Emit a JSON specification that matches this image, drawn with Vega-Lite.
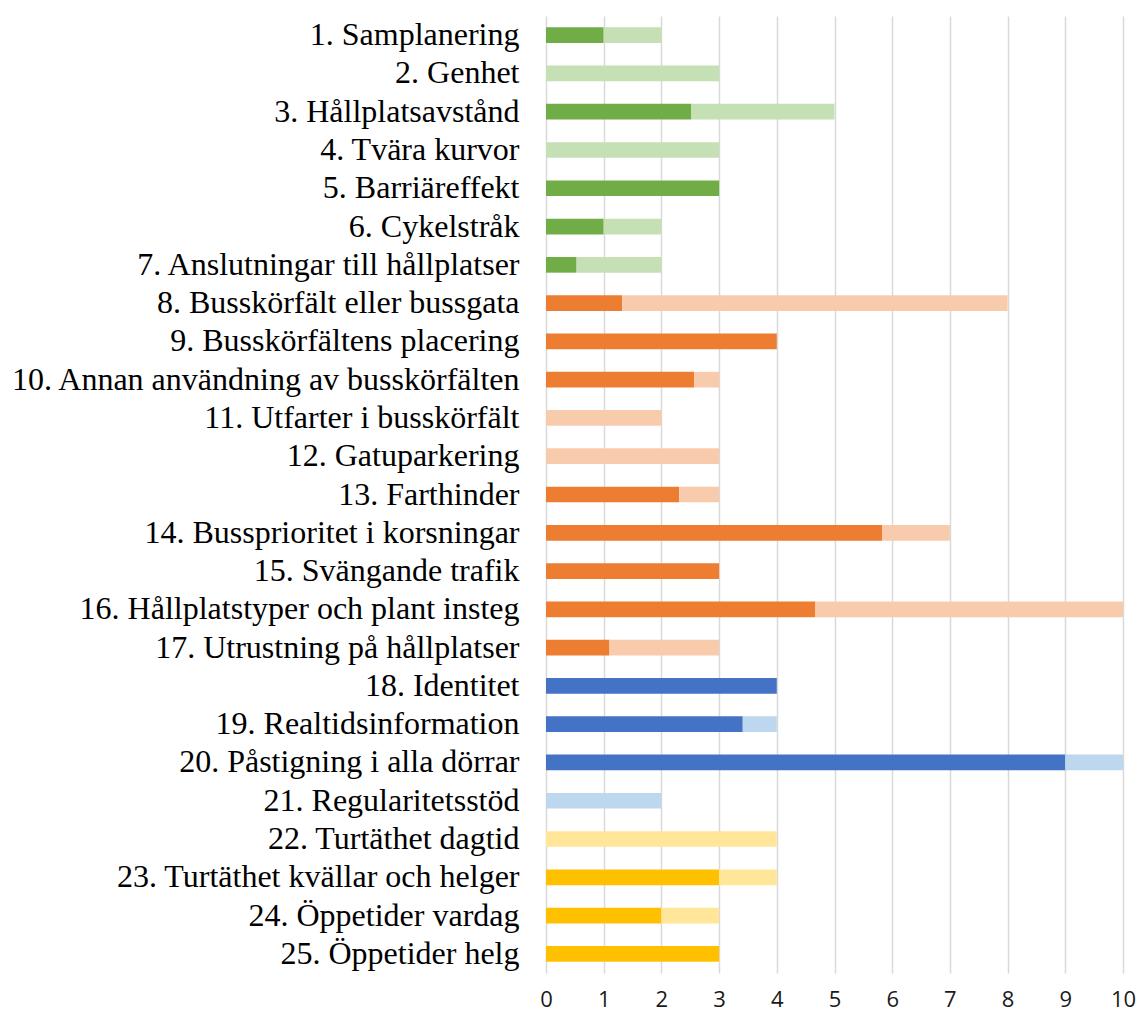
{
  "$schema": "https://vega.github.io/schema/vega-lite/v6.json",
  "width": 577,
  "height": 957,
  "autosize": "none",
  "padding": {"left": 546, "top": 16, "right": 14, "bottom": 40},
  "background": "white",
  "config": {"view": {"stroke": null}},
  "data": {
    "values": [
      {"åtgärd": "1. Samplanering", "serie": "Linjenät A", "del": "A", "värde": 1},
      {"åtgärd": "1. Samplanering", "serie": "Linjenät B", "del": "B", "värde": 1},
      {"åtgärd": "2. Genhet", "serie": "Linjenät B", "del": "B", "värde": 3},
      {"åtgärd": "3. Hållplatsavstånd", "serie": "Linjenät A", "del": "A", "värde": 2.52},
      {"åtgärd": "3. Hållplatsavstånd", "serie": "Linjenät B", "del": "B", "värde": 2.48},
      {"åtgärd": "4. Tvära kurvor", "serie": "Linjenät B", "del": "B", "värde": 3},
      {"åtgärd": "5. Barriäreffekt", "serie": "Linjenät A", "del": "A", "värde": 3},
      {"åtgärd": "6. Cykelstråk", "serie": "Linjenät A", "del": "A", "värde": 1},
      {"åtgärd": "6. Cykelstråk", "serie": "Linjenät B", "del": "B", "värde": 1},
      {"åtgärd": "7. Anslutningar till hållplatser", "serie": "Linjenät A", "del": "A", "värde": 0.53},
      {"åtgärd": "7. Anslutningar till hållplatser", "serie": "Linjenät B", "del": "B", "värde": 1.47},
      {"åtgärd": "8. Busskörfält eller bussgata", "serie": "Framkomlighet A", "del": "A", "värde": 1.32},
      {"åtgärd": "8. Busskörfält eller bussgata", "serie": "Framkomlighet B", "del": "B", "värde": 6.68},
      {"åtgärd": "9. Busskörfältens placering", "serie": "Framkomlighet A", "del": "A", "värde": 4},
      {"åtgärd": "10. Annan användning av busskörfälten", "serie": "Framkomlighet A", "del": "A", "värde": 2.57},
      {"åtgärd": "10. Annan användning av busskörfälten", "serie": "Framkomlighet B", "del": "B", "värde": 0.43},
      {"åtgärd": "11. Utfarter i busskörfält", "serie": "Framkomlighet B", "del": "B", "värde": 2},
      {"åtgärd": "12. Gatuparkering", "serie": "Framkomlighet B", "del": "B", "värde": 3},
      {"åtgärd": "13. Farthinder", "serie": "Framkomlighet A", "del": "A", "värde": 2.31},
      {"åtgärd": "13. Farthinder", "serie": "Framkomlighet B", "del": "B", "värde": 0.69},
      {"åtgärd": "14. Bussprioritet i korsningar", "serie": "Framkomlighet A", "del": "A", "värde": 5.83},
      {"åtgärd": "14. Bussprioritet i korsningar", "serie": "Framkomlighet B", "del": "B", "värde": 1.17},
      {"åtgärd": "15. Svängande trafik", "serie": "Framkomlighet A", "del": "A", "värde": 3},
      {"åtgärd": "16. Hållplatstyper och plant insteg", "serie": "Framkomlighet A", "del": "A", "värde": 4.67},
      {"åtgärd": "16. Hållplatstyper och plant insteg", "serie": "Framkomlighet B", "del": "B", "värde": 5.33},
      {"åtgärd": "17. Utrustning på hållplatser", "serie": "Framkomlighet A", "del": "A", "värde": 1.1},
      {"åtgärd": "17. Utrustning på hållplatser", "serie": "Framkomlighet B", "del": "B", "värde": 1.9},
      {"åtgärd": "18. Identitet", "serie": "Information A", "del": "A", "värde": 4},
      {"åtgärd": "19. Realtidsinformation", "serie": "Information A", "del": "A", "värde": 3.41},
      {"åtgärd": "19. Realtidsinformation", "serie": "Information B", "del": "B", "värde": 0.59},
      {"åtgärd": "20. Påstigning i alla dörrar", "serie": "Information A", "del": "A", "värde": 9},
      {"åtgärd": "20. Påstigning i alla dörrar", "serie": "Information B", "del": "B", "värde": 1},
      {"åtgärd": "21. Regularitetsstöd", "serie": "Information B", "del": "B", "värde": 2},
      {"åtgärd": "22. Turtäthet dagtid", "serie": "Turtäthet B", "del": "B", "värde": 4},
      {"åtgärd": "23. Turtäthet kvällar och helger", "serie": "Turtäthet A", "del": "A", "värde": 3},
      {"åtgärd": "23. Turtäthet kvällar och helger", "serie": "Turtäthet B", "del": "B", "värde": 1},
      {"åtgärd": "24. Öppetider vardag", "serie": "Turtäthet A", "del": "A", "värde": 2},
      {"åtgärd": "24. Öppetider vardag", "serie": "Turtäthet B", "del": "B", "värde": 1},
      {"åtgärd": "25. Öppetider helg", "serie": "Turtäthet A", "del": "A", "värde": 3}
    ]
  },
  "mark": {"type": "bar"},
  "encoding": {
    "y": {
      "field": "åtgärd",
      "type": "nominal",
      "sort": null,
      "scale": {"paddingInner": 0.59, "paddingOuter": 0.295},
      "axis": {
        "title": null,
        "ticks": false,
        "domain": false,
        "labelFont": "Liberation Serif",
        "labelFontSize": 32,
        "labelColor": "#000000",
        "labelPadding": 27,
        "labelLimit": 0
      }
    },
    "x": {
      "field": "värde",
      "type": "quantitative",
      "stack": "zero",
      "scale": {"domain": [0, 10], "nice": false},
      "axis": {
        "title": null,
        "values": [0, 1, 2, 3, 4, 5, 6, 7, 8, 9, 10],
        "grid": true,
        "gridColor": "#d9d9d9",
        "gridWidth": 1.5,
        "domain": false,
        "ticks": false,
        "labelFlush": false,
        "labelFont": "Open Sans",
        "labelFontSize": 22,
        "labelColor": "#1a1a1a",
        "labelPadding": 16
      }
    },
    "color": {
      "field": "serie",
      "type": "nominal",
      "scale": {
        "domain": ["Linjenät A", "Linjenät B", "Framkomlighet A", "Framkomlighet B", "Information A", "Information B", "Turtäthet A", "Turtäthet B"],
        "range": ["#70AD47", "#C5E0B4", "#ED7D31", "#F8CBAD", "#4472C4", "#BDD7EE", "#FFC000", "#FFE699"]
      },
      "legend": null
    },
    "order": {"field": "del", "type": "ordinal"}
  }
}
